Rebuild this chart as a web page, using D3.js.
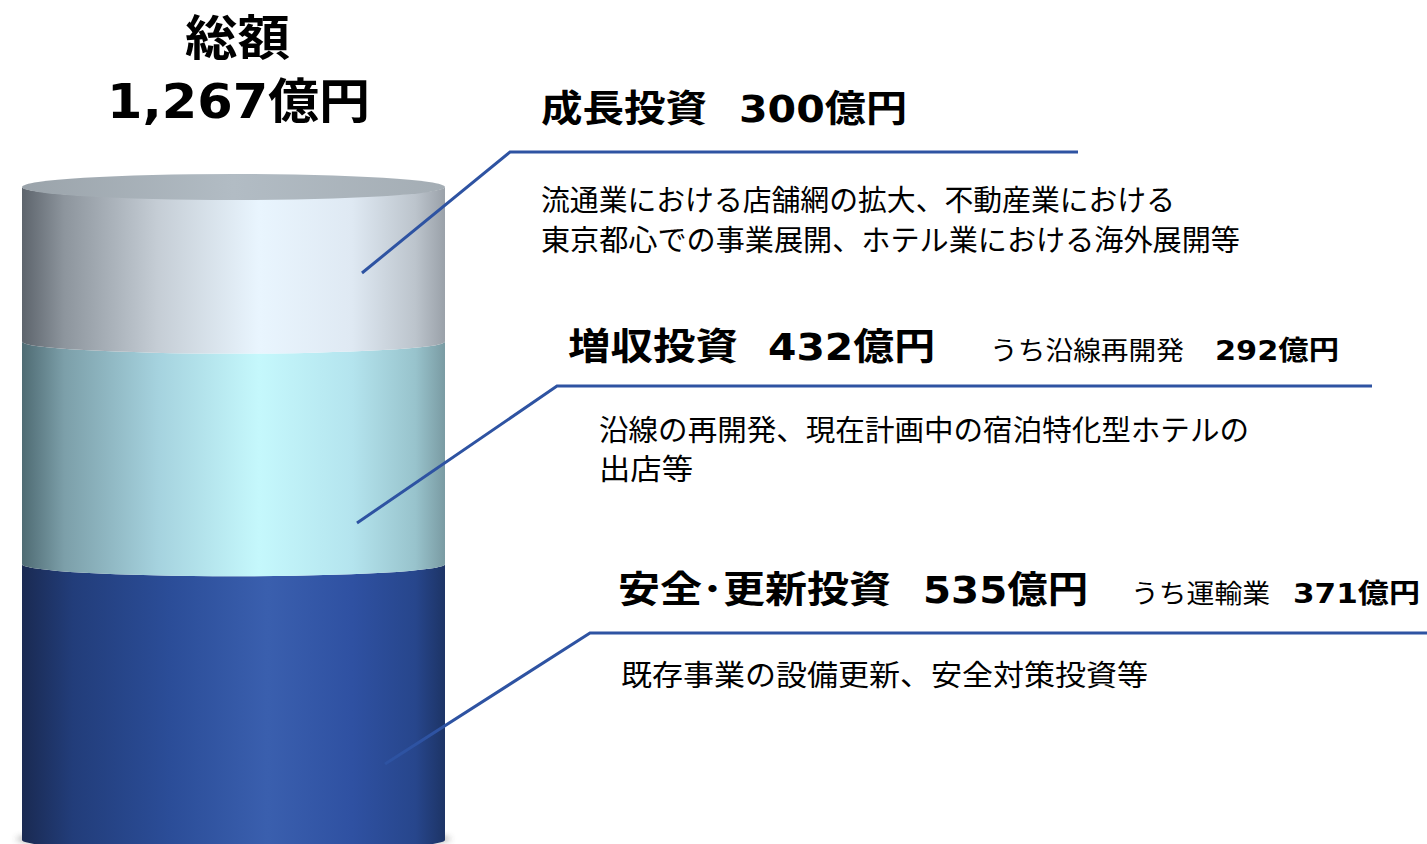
<!DOCTYPE html>
<html>
<head>
<meta charset="utf-8">
<script src="https://cdn.jsdelivr.net/npm/d3@7"></script>
<style>
  body { margin: 0; background: #fff; }
  svg { display: block; }
</style>
</head>
<body>
<div id="chart"></div>
<script>
// data (bottom to top)
var categories = ['安全･更新投資', '増収投資', '成長投資']
var values = [535, 432, 300]
var amountLabels = ['535億円', '432億円', '300億円']
var subLabels = ['うち運輸業', 'うち沿線再開発', '']
var subAmounts = ['371億円', '292億円', '']
var descriptions = [
    ['既存事業の設備更新、安全対策投資等'],
    ['沿線の再開発、現在計画中の宿泊特化型ホテルの', '出店等'],
    ['流通業における店舗網の拡大、不動産業における', '東京都心での事業展開、ホテル業における海外展開等']
]
var totalTitle = '総額'
var totalLabel = '1,267億円'

var w = 1427,
    h = 844

var cylX0 = 22,
    cylX1 = 445,
    rx = (cylX1 - cylX0) / 2,
    cx = cylX0 + rx,
    ry = 12

// label layout (same order as data)
var layout = [
    { lineY: 633, cornerX: 590, endX: 1427, startX: 385, startY: 764, titleY: 603,
      nameX: 618, nameW: 273, amtX: 923, amtW: 165, subX: 1131, subW: 139, subAmtX: 1293, subAmtW: 127,
      descX: 621, descY: [686], descW: [527] },
    { lineY: 386, cornerX: 557, endX: 1372, startX: 357, startY: 523, titleY: 360,
      nameX: 568, nameW: 170, amtX: 768, amtW: 167, subX: 990, subW: 194, subAmtX: 1215, subAmtW: 124,
      descX: 599, descY: [441, 480], descW: [650, 94] },
    { lineY: 152, cornerX: 510, endX: 1078, startX: 362, startY: 273, titleY: 122,
      nameX: 541, nameW: 166, amtX: 739, amtW: 168,
      descX: 541, descY: [211, 251], descW: [634, 699] }
]

var svg = d3.select('#chart')
    .append('svg')
    .attr('width', w)
    .attr('height', h)

var defs = svg.append('defs')

// gradients for the cylinder sides
var sideStops = [
    [['0', '#1a2a52'], ['0.12', '#223d7a'], ['0.35', '#2b4d98'], ['0.58', '#3a5fae'], ['0.78', '#2f51a2'], ['0.93', '#27468c'], ['1', '#1d3466']],
    [['0', '#4f6b73'], ['0.1', '#7c9fa9'], ['0.32', '#a5d2de'], ['0.56', '#c5f8fc'], ['0.78', '#b4e4ee'], ['0.93', '#98c3cc'], ['1', '#7a9ba3']],
    [['0', '#5d646c'], ['0.1', '#8d959d'], ['0.32', '#c5cdd5'], ['0.56', '#e9f5fe'], ['0.78', '#dfe9f3'], ['0.93', '#bcc4cc'], ['1', '#9aa1a9']]
]
sideStops.forEach(function (stops, i) {
    var g = defs.append('linearGradient')
        .attr('id', 'side' + i)
        .attr('x1', '0').attr('x2', '1').attr('y1', '0').attr('y2', '0')
    stops.forEach(function (s) {
        g.append('stop').attr('offset', s[0]).attr('stop-color', s[1])
    })
})
var topGrad = defs.append('linearGradient')
    .attr('id', 'topface')
    .attr('x1', '0').attr('x2', '1').attr('y1', '0').attr('y2', '0')
topGrad.append('stop').attr('offset', '0').attr('stop-color', '#9aa3aa')
topGrad.append('stop').attr('offset', '0.5').attr('stop-color', '#b2bcc4')
topGrad.append('stop').attr('offset', '1').attr('stop-color', '#a4adb4')

defs.append('filter')
    .attr('id', 'blur')
    .attr('x', '-10%').attr('y', '-100%').attr('width', '120%').attr('height', '300%')
    .append('feGaussianBlur')
    .attr('stdDeviation', 3)

// scale
var total = d3.sum(values)
var yscale = d3.scaleLinear()
    .domain([0, total])
    .range([840, 187])

var stacked = []
var acc = 0
values.forEach(function (v, i) {
    stacked.push({ i: i, y0: acc, y1: acc + v })
    acc += v
})

// shadow
svg.append('ellipse')
    .attr('cx', cx)
    .attr('cy', yscale(0) - 1)
    .attr('rx', rx + 6)
    .attr('ry', 8)
    .attr('fill', '#555')
    .attr('opacity', 0.6)
    .attr('filter', 'url(#blur)')

// cylinder segments
function segPath(d) {
    var yt = yscale(d.y1),
        yb = yscale(d.y0)
    return 'M' + cylX0 + ',' + yt +
        'A' + rx + ',' + ry + ' 0 0 0 ' + cylX1 + ',' + yt +
        'L' + cylX1 + ',' + yb +
        'A' + rx + ',' + ry + ' 0 0 1 ' + cylX0 + ',' + yb + 'Z'
}

svg.selectAll('path.seg')
    .data(stacked)
    .enter()
    .append('path')
    .attr('class', 'seg')
    .attr('d', segPath)
    .attr('fill', d => 'url(#side' + d.i + ')')

// top face
svg.append('ellipse')
    .attr('cx', cx)
    .attr('cy', yscale(total))
    .attr('rx', rx)
    .attr('ry', ry + 1)
    .attr('fill', 'url(#topface)')

// total label
svg.append('text')
    .text(totalTitle)
    .attr('x', 185)
    .attr('y', 55)
    .attr('textLength', 105)
    .attr('lengthAdjust', 'spacingAndGlyphs')
    .style('font-family', "'Noto Sans CJK JP', sans-serif")
    .style('font-weight', 'bold')
    .style('font-size', '48px')

svg.append('text')
    .text(totalLabel)
    .attr('x', 107)
    .attr('y', 118)
    .attr('textLength', 263)
    .attr('lengthAdjust', 'spacingAndGlyphs')
    .style('font-family', "'DejaVu Sans', 'Noto Sans CJK JP', sans-serif")
    .style('font-weight', 'bold')
    .style('font-size', '48px')

// leader lines
svg.selectAll('polyline.leader')
    .data(layout)
    .enter()
    .append('polyline')
    .attr('class', 'leader')
    .attr('points', d => [[d.startX, d.startY], [d.cornerX, d.lineY], [d.endX, d.lineY]].join(' '))
    .attr('fill', 'none')
    .attr('stroke', '#2e53a2')
    .attr('stroke-width', 3)

// labels
function addText(str, x, y, width, size, weight, family) {
    if (!str) return
    svg.append('text')
        .text(str)
        .attr('x', x)
        .attr('y', y)
        .attr('textLength', width)
        .attr('lengthAdjust', 'spacingAndGlyphs')
        .style('font-family', family)
        .style('font-weight', weight)
        .style('font-size', size + 'px')
        .attr('fill', '#000')
}

var cjk = "'Noto Sans CJK JP', sans-serif",
    num = "'DejaVu Sans', 'Noto Sans CJK JP', sans-serif"

categories.forEach(function (c, i) {
    var L = layout[i]
    addText(c, L.nameX, L.titleY, L.nameW, 37, 'bold', cjk)
    addText(amountLabels[i], L.amtX, L.titleY, L.amtW, 37, 'bold', num)
    addText(subLabels[i], L.subX, L.titleY, L.subW, 26, 'normal', cjk)
    addText(subAmounts[i], L.subAmtX, L.titleY, L.subAmtW, 27, 'bold', num)
    descriptions[i].forEach(function (line, j) {
        addText(line, L.descX, L.descY[j], L.descW[j], 29, 'normal', cjk)
    })
})
</script>
</body>
</html>
